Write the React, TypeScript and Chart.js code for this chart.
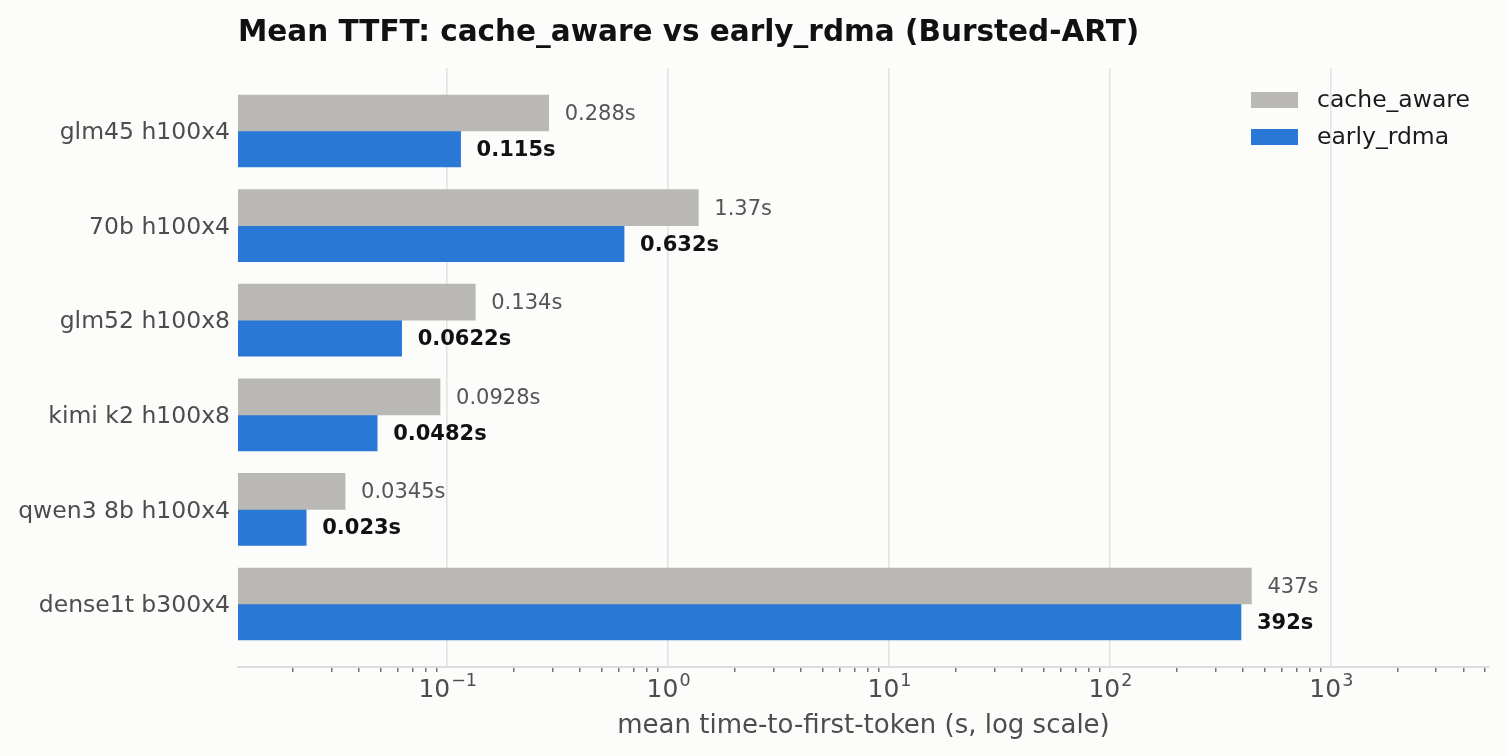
import { useEffect, useRef } from 'react';
import { Chart, registerables } from 'chart.js';

Chart.register(...registerables);

const categories = [
  'glm45 h100x4',
  '70b h100x4',
  'glm52 h100x8',
  'kimi k2 h100x8',
  'qwen3 8b h100x4',
  'dense1t b300x4',
];
const cacheAware = [0.288, 1.37, 0.134, 0.0928, 0.0345, 437];
const earlyRdma = [0.115, 0.632, 0.0622, 0.0482, 0.023, 392];
const seriesNames = ['cache_aware', 'early_rdma'];
const decadeExponents = [-1, 0, 1, 2, 3];

const FONT = "'DejaVu Sans', sans-serif";
const GRAY = '#b9b8b4';
const BLUE = '#2a78d6';
const BG = '#fcfcfa';
const X_MIN = 0.0113;
const X_MAX = 5200;

const isDecade = (v: number) => Math.abs(Math.log10(v) - Math.round(Math.log10(v))) < 1e-6;

// decade and 2..9 minor positions inside the axis range
const xTicks: number[] = [];
for (let e = -2; e <= 3; e++) {
  for (let m = 1; m <= 9; m++) {
    const v = m * Math.pow(10, e);
    if (v >= X_MIN && v <= X_MAX) xTicks.push(v);
  }
}

const decorations = {
  id: 'decorations',
  beforeDraw(chart: any) {
    const { ctx, width, height } = chart;
    ctx.save();
    ctx.fillStyle = BG;
    ctx.fillRect(0, 0, width, height);
    ctx.restore();
  },
  afterDraw(chart: any) {
    const { ctx, chartArea } = chart;
    const xScale = chart.scales.x;
    const yScale = chart.scales.y;
    ctx.save();

    // title
    ctx.fillStyle = '#111111';
    ctx.font = `bold 29.5px ${FONT}`;
    ctx.textAlign = 'left';
    ctx.textBaseline = 'alphabetic';
    ctx.fillText('Mean TTFT: cache_aware vs early_rdma (Bursted-ART)', chartArea.left, 41);

    // category labels
    ctx.font = `23.5px ${FONT}`;
    ctx.fillStyle = '#4d4d4d';
    ctx.textAlign = 'right';
    ctx.textBaseline = 'middle';
    categories.forEach((name, i) => {
      ctx.fillText(name, chartArea.left - 8, yScale.getPixelForValue(i) + 2);
    });

    // value labels after the bars
    ctx.textAlign = 'left';
    const metaA = chart.getDatasetMeta(0);
    const metaB = chart.getDatasetMeta(1);
    metaA.data.forEach((bar: any, i: number) => {
      ctx.font = `21px ${FONT}`;
      ctx.fillStyle = '#555555';
      ctx.fillText(`${cacheAware[i]}s`, bar.x + 16, bar.y + 1.5);
    });
    metaB.data.forEach((bar: any, i: number) => {
      ctx.font = `bold 21px ${FONT}`;
      ctx.fillStyle = '#111111';
      ctx.fillText(`${earlyRdma[i]}s`, bar.x + 16, bar.y + 1.5);
    });

    // x tick labels as 10^n
    ctx.textBaseline = 'alphabetic';
    ctx.fillStyle = '#4d4d4d';
    decadeExponents.forEach((e) => {
      const px = xScale.getPixelForValue(Math.pow(10, e));
      const exp = e < 0 ? `\u2212${-e}` : `${e}`;
      ctx.font = `25px ${FONT}`;
      const wBase = ctx.measureText('10').width;
      ctx.font = `17.5px ${FONT}`;
      const wExp = ctx.measureText(exp).width;
      const left = px - (wBase + wExp) / 2;
      ctx.font = `25px ${FONT}`;
      ctx.fillText('10', left, 697);
      ctx.font = `17.5px ${FONT}`;
      ctx.fillText(exp, left + wBase + 1, 686);
    });

    // x axis title
    ctx.font = `26px ${FONT}`;
    ctx.textAlign = 'center';
    ctx.fillText('mean time-to-first-token (s, log scale)', (chartArea.left + chartArea.right) / 2, 733);

    // legend
    const colors = [GRAY, BLUE];
    ctx.textAlign = 'left';
    ctx.textBaseline = 'middle';
    ctx.font = `23.5px ${FONT}`;
    seriesNames.forEach((name, i) => {
      const y = 100 + i * 37;
      ctx.fillStyle = colors[i];
      ctx.fillRect(1251, y - 8, 47, 16);
      ctx.fillStyle = '#1a1a1a';
      ctx.fillText(name, 1317, y + 1);
    });

    ctx.restore();
  },
};

const App = () => {
  const chartRef = useRef<HTMLCanvasElement | null>(null);
  const chartInstanceRef = useRef<Chart | null>(null);

  useEffect(() => {
    document.body.style.margin = '0';
    document.body.style.background = BG;
    const ctx = chartRef.current?.getContext('2d');
    if (!ctx) return;

    if (chartInstanceRef.current) {
      chartInstanceRef.current.destroy();
    }

    chartInstanceRef.current = new Chart(ctx, {
      type: 'bar',
      data: {
        datasets: [
          {
            label: seriesNames[0],
            data: cacheAware.map((v, i) => ({ x: v, y: i })),
            backgroundColor: GRAY,
            barThickness: 36,
          },
          {
            label: seriesNames[1],
            data: earlyRdma.map((v, i) => ({ x: v, y: i })),
            backgroundColor: BLUE,
            barThickness: 36,
          },
        ],
      },
      plugins: [decorations],
      options: {
        indexAxis: 'y',
        animation: false,
        responsive: true,
        maintainAspectRatio: false,
        layout: {
          padding: { top: 68, right: 19, left: 0, bottom: 0 },
        },
        plugins: {
          legend: { display: false },
          title: { display: false },
          tooltip: { enabled: false },
        },
        scales: {
          y: {
            type: 'linear',
            offset: false,
            min: -0.666,
            max: 5.666,
            reverse: true,
            afterBuildTicks: (scale: any) => {
              scale.ticks = categories.map((_, i) => ({ value: i }));
            },
            afterFit: (scale: any) => {
              scale.width = 238;
            },
            ticks: { display: false },
            grid: { display: false, drawTicks: false, offset: false },
            border: { display: false },
          },
          x: {
            type: 'logarithmic',
            min: X_MIN,
            max: X_MAX,
            afterBuildTicks: (scale: any) => {
              scale.ticks = xTicks.map((v) => ({ value: v }));
            },
            afterFit: (scale: any) => {
              scale.height = 89;
            },
            ticks: { display: false },
            grid: {
              color: (c: any) => (c.tick && isDecade(c.tick.value) ? '#e3e3e3' : 'rgba(0,0,0,0)'),
              lineWidth: 1.6,
              drawTicks: true,
              tickLength: 5,
              tickWidth: 1.2,
              tickColor: (c: any) => (c.tick && isDecade(c.tick.value) ? 'rgba(0,0,0,0)' : '#555555'),
            },
            border: { display: true, color: '#dddddd', width: 2 },
          },
        },
      },
    });

    return () => {
      if (chartInstanceRef.current) {
        chartInstanceRef.current.destroy();
        chartInstanceRef.current = null;
      }
    };
  }, []);

  return (
    <div style={{ position: 'fixed', left: 0, top: 0, width: 1508, height: 756, background: BG }}>
      <canvas ref={chartRef} style={{ width: '100%', height: '100%' }}></canvas>
    </div>
  );
};

export default App;
